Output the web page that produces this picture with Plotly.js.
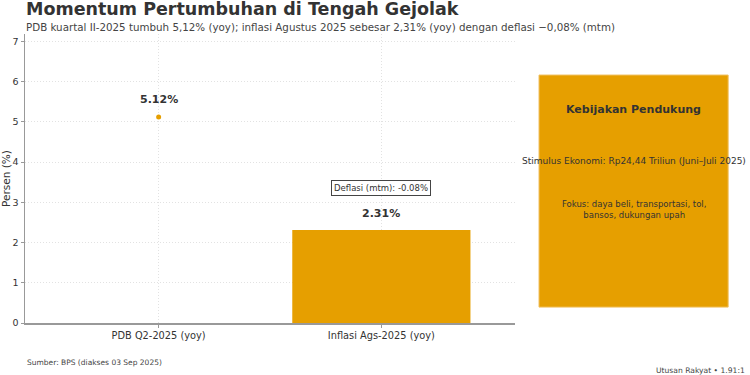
<!DOCTYPE html>
<html><head><meta charset="utf-8">
<script src="https://cdn.plot.ly/plotly-3.0.1.min.js"></script>
<style>html,body{margin:0;padding:0;background:#fff}#chart{width:750px;height:375px}</style>
</head><body><div id="chart"></div>
<script>
const categories = ["PDB Q2-2025 (yoy)", "Inflasi Ags-2025 (yoy)"];
const gdpValue = [5.12];
const inflationValue = [2.31];
const deflationMtm = -0.08;
const stimulusText = "Stimulus Ekonomi: Rp24,44 Triliun (Juni–Juli 2025)";
const focusText = "Fokus: daya beli, transportasi, tol,<br>bansos, dukungan upah";

const ORANGE = "#E69F00";
const FONT = "DejaVu Sans, sans-serif";

const traces = [
  {type: "bar", x: [categories[1]], y: inflationValue, width: 0.8,
   marker: {color: ORANGE, line: {width: 0}}, hoverinfo: "skip", showlegend: false},
  {type: "scatter", mode: "markers", x: [categories[0]], y: gdpValue,
   marker: {color: ORANGE, size: 5}, hoverinfo: "skip", showlegend: false}
];

const annotations = [
  {xref: "paper", yref: "paper", x: 0.0, y: 1.085, xanchor: "left", yanchor: "middle",
   text: "<b>Momentum Pertumbuhan di Tengah Gejolak</b>", showarrow: false, borderpad: 0,
   font: {family: FONT, size: 17.5, color: "#333"}},
  {xref: "paper", yref: "paper", x: 0.0, y: 1.024, xanchor: "left", yanchor: "middle",
   text: "PDB kuartal II-2025 tumbuh 5,12% (yoy); inflasi Agustus 2025 sebesar 2,31% (yoy) dengan deflasi −0,08% (mtm)",
   showarrow: false, borderpad: 0, font: {family: FONT, size: 10.3, color: "#444"}},
  {x: categories[0], y: gdpValue[0], yshift: 17, text: "<b>" + gdpValue[0].toFixed(2) + "%</b>",
   showarrow: false, yanchor: "middle", font: {family: FONT, size: 11, color: "#333"}},
  {x: categories[1], y: inflationValue[0], yshift: 17, text: "<b>" + inflationValue[0].toFixed(2) + "%</b>",
   showarrow: false, yanchor: "middle", font: {family: FONT, size: 11, color: "#333"}},
  {x: categories[1], y: inflationValue[0], yshift: 42, text: "Deflasi (mtm): " + deflationMtm.toFixed(2) + "%",
   showarrow: false, yanchor: "middle", bordercolor: "#444", borderwidth: 1, borderpad: 2,
   bgcolor: "#fff", font: {family: FONT, size: 8.5, color: "#333"}},
  {xref: "paper", yref: "paper", x: 1.242, y: 0.74, xanchor: "center", yanchor: "middle",
   text: "<b>Kebijakan Pendukung</b>",
   showarrow: false, font: {family: FONT, size: 11, color: "#333"}},
  {xref: "paper", yref: "paper", x: 1.242, y: 0.559, xanchor: "center", yanchor: "middle",
   text: stimulusText, showarrow: false, font: {family: FONT, size: 9, color: "#333"}},
  {xref: "paper", yref: "paper", x: 1.242, y: 0.393, xanchor: "center", yanchor: "middle",
   text: focusText, showarrow: false, font: {family: FONT, size: 8.5, color: "#333"}},
  {xref: "paper", yref: "paper", x: 0.0, y: -0.135, xanchor: "left", yanchor: "middle",
   text: "Sumber: BPS (diakses 03 Sep 2025)", showarrow: false,
   font: {family: FONT, size: 7.5, color: "#444"}},
  {xref: "paper", yref: "paper", x: 1.474, y: -0.163, xanchor: "right", yanchor: "middle",
   text: "Utusan Rakyat • 1.91:1", showarrow: false,
   font: {family: FONT, size: 7.6, color: "#444"}}
];

const layout = {
  width: 750, height: 375,
  margin: {l: 25, r: 235, t: 34, b: 52, pad: 0},
  paper_bgcolor: "#fff", plot_bgcolor: "#fff",
  font: {family: FONT, color: "#333"},
  showlegend: false,
  xaxis: {type: "category", categoryorder: "array", categoryarray: categories,
          range: [-0.6, 1.6], showgrid: true, gridcolor: "#e2e2e2",
          griddash: "1px,2px", gridwidth: 1, showline: true, linecolor: "#999", linewidth: 1.5,
          ticks: "outside", ticklen: 3, tickcolor: "#999", zeroline: false,
          tickfont: {family: FONT, size: 9.8, color: "#333"}, fixedrange: true},
  yaxis: {range: [0, 7.18], dtick: 1, showgrid: true, gridcolor: "#e2e2e2", griddash: "1px,2px",
          gridwidth: 1, showline: true, linecolor: "#999", linewidth: 1.5, zeroline: false,
          ticks: "outside", ticklen: 3, tickcolor: "#999",
          tickfont: {family: FONT, size: 9.5, color: "#333"},
          title: {text: "Persen (%)", font: {family: FONT, size: 10.5, color: "#333"}, standoff: 4},
          fixedrange: true},
  shapes: [
    {type: "rect", xref: "paper", yref: "paper", x0: 1.049, x1: 1.435, y0: 0.055, y1: 0.858,
     fillcolor: ORANGE, line: {color: "#f0c060", width: 1}, layer: "below"}
  ],
  annotations: annotations
};

Plotly.newPlot("chart", traces, layout, {displayModeBar: false, staticPlot: true});
</script></body></html>
